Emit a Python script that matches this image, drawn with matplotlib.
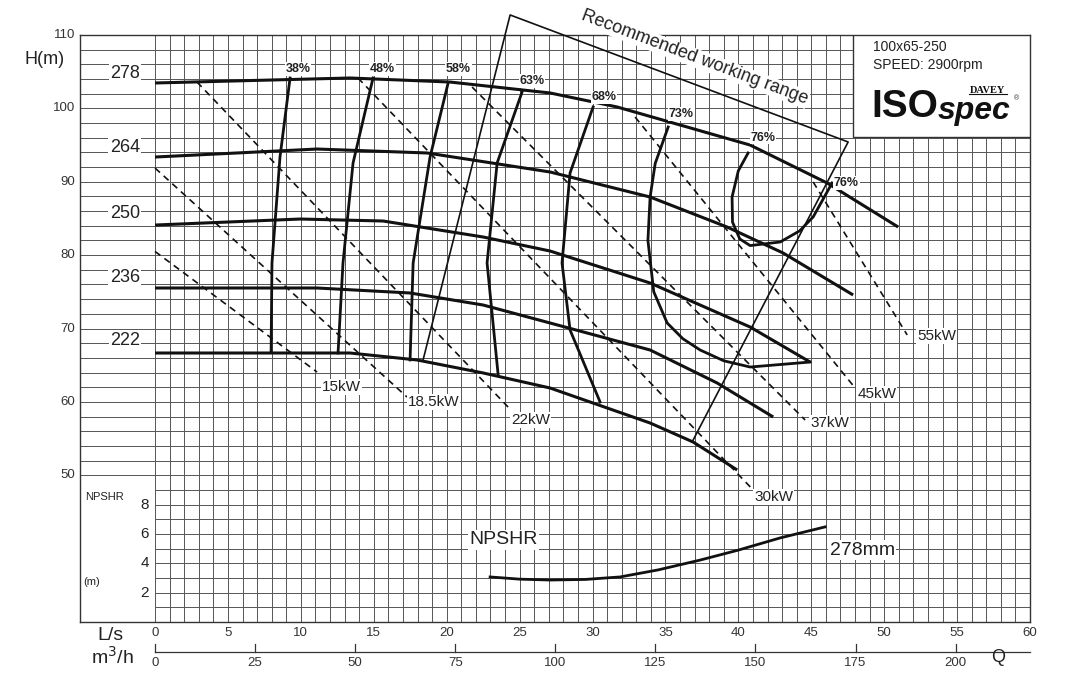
import matplotlib
matplotlib.use("Agg")
import matplotlib.pyplot as plt
from matplotlib.patches import Rectangle

plt.rcParams['font.family'] = ['Liberation Sans', 'DejaVu Sans']

# head curves per impeller diameter: flow (L/s), head (m)
q_278 = [0, 13.37, 20.23, 27.09, 31.69, 40.81, 46.09, 50.96]
h_278 = [103.46, 104.14, 103.59, 102.1, 100.19, 95.0, 89.83, 83.83]
q_264 = [0, 11.11, 18.66, 27.09, 33.95, 39.23, 43.07, 47.87]
h_264 = [93.37, 94.46, 93.92, 91.33, 87.92, 83.83, 80.29, 74.57]
q_250 = [0, 9.95, 15.64, 22.5, 27.09, 33.95, 40.81, 44.92]
h_250 = [84.1, 84.92, 84.65, 82.47, 80.56, 76.2, 70.2, 65.43]
q_236 = [0, 11.11, 17.49, 22.5, 27.09, 33.95, 38.55, 42.39]
h_236 = [75.52, 75.52, 74.84, 73.2, 70.75, 67.07, 62.57, 57.94]
q_222 = [0, 13.37, 17.97, 22.5, 27.09, 33.95, 36.9, 39.92]
h_222 = [66.66, 66.66, 65.71, 63.94, 61.89, 57.12, 54.53, 50.72]
diameters = ['278', '264', '250', '236', '222']
diam_label_h = [104.8, 94.7, 85.7, 77.0, 68.4]

# efficiency contours
eff_labels = ['38%', '48%', '58%', '63%', '68%', '73%', '76%']
eff_q = [[9.26, 8.57, 8.02, 7.96],
         [14.95, 13.58, 12.89, 12.55],
         [20.1, 18.86, 17.7, 17.49],
         [25.17, 23.46, 22.77, 23.53],
         [30.04, 28.46, 27.91, 28.46, 30.52],
         [35.19, 34.3, 33.95, 33.8, 34.2, 35.12, 36.2, 37.38, 39.0, 40.81, 44.92],
         [40.67, 40.0, 39.57, 39.6, 40.1, 40.81, 42.87, 44.2, 45.13, 46.43]]
eff_h = [[104.14, 93.37, 78.93, 66.8],
         [104.14, 92.56, 78.93, 66.66],
         [103.46, 93.37, 78.93, 65.71],
         [102.23, 92.56, 78.93, 63.66],
         [100.19, 91.19, 78.93, 69.8, 59.98],
         [97.46, 92.5, 87.92, 82.0, 75.0, 70.75, 68.6, 67.07, 65.6, 64.75, 65.43],
         [93.92, 91.5, 87.92, 84.5, 82.2, 81.3, 81.79, 83.3, 85.2, 89.83]]
eff_lab_q = [9.8, 15.6, 20.8, 25.86, 30.8, 36.1, 41.7, 47.4]
eff_lab_h = [105.4, 105.4, 105.4, 103.7, 101.5, 99.2, 96.0, 89.8]
eff_lab_txt = eff_labels + ['76%']

# power lines (start q, start h, end q, end h) and labels
power_labels = ['15kW', '18.5kW', '22kW', '30kW', '37kW', '45kW', '55kW']
power_q0 = [0, 0, 2.88, 13.92, 21.74, 32.92, 45.13]
power_h0 = [80.5, 91.87, 103.59, 104.14, 102.91, 98.82, 89.97]
power_q1 = [11.11, 17.28, 24.21, 41.15, 44.58, 48.01, 51.58]
power_h1 = [64.07, 60.66, 59.3, 47.72, 57.53, 61.89, 69.12]
power_lab_q = [11.45, 17.35, 24.42, 41.08, 44.92, 48.15, 52.26]
power_lab_h = [62.03, 59.98, 57.53, 47.04, 57.12, 61.07, 68.98]

# recommended working range
rec_q = [18.38, 24.35, 47.53, 36.83]
rec_h = [65.7, 112.73, 95.42, 54.53]

# NPSHR for 278mm
npsh_q = [22.98, 25.0, 27.09, 29.5, 31.89, 34.5, 37.38, 40.0, 42.87, 45.95]
npsh_m = [3.07, 2.92, 2.86, 2.9, 3.07, 3.55, 4.22, 4.9, 5.73, 6.48]

ls_ticks = list(range(0, 61, 5))
m3h_ticks = list(range(0, 201, 25))
h_ticks = [110, 100, 90, 80, 70, 60, 50]
npsh_ticks = [8, 6, 4, 2]

fig = plt.figure(figsize=(10.88, 6.99), dpi=100)
ax = fig.add_axes([80 / 1088, 77 / 699, 950 / 1088, 587 / 699])
xmin = -75 / 14.58
ax.set_xlim(xmin, 60)
ax.set_ylim(30, 110)
ax.set_xticks([])
ax.set_yticks([])
for s in ax.spines.values():
    s.set_linewidth(1.0)
    s.set_color('#333333')

gc = '#555555'
for q in range(0, 61):
    ax.plot([q, q], [30, 110], color=gc, lw=0.7, zorder=1)
for h in range(30, 111, 2):
    x0 = xmin if h >= 50 else 0
    ax.plot([x0, 60], [h, h], color=gc, lw=0.7, zorder=1)

black = '#111111'
for q, h in [(q_278, h_278), (q_264, h_264), (q_250, h_250), (q_236, h_236), (q_222, h_222)]:
    ax.plot(q, h, color=black, lw=2.2, zorder=4, solid_capstyle='butt')
for d, hl in zip(diameters, diam_label_h):
    ax.text(-2.06, hl, d, fontsize=13, ha='center', va='center', color='#222222',
            bbox=dict(facecolor='white', edgecolor='none', pad=1), zorder=5)

for q, h in zip(eff_q, eff_h):
    ax.plot(q, h, color=black, lw=2.0, zorder=4, solid_joinstyle='round')
for q, h, t in zip(eff_lab_q, eff_lab_h, eff_lab_txt):
    ax.text(q, h, t, fontsize=9, fontweight='bold', ha='center', va='center', color='#222222',
            bbox=dict(facecolor='white', edgecolor='none', pad=0.5), zorder=5)

for i, lab in enumerate(power_labels):
    ax.plot([power_q0[i], power_q1[i]], [power_h0[i], power_h1[i]], color=black, lw=1.2,
            dashes=(4, 3), zorder=3)
    ax.text(power_lab_q[i], power_lab_h[i], lab, fontsize=11, ha='left', va='center', color='#222222',
            bbox=dict(facecolor='white', edgecolor='none', pad=0.5), zorder=5)

ax.plot(rec_q, rec_h, color=black, lw=1.2, zorder=3, clip_on=False)
ax.text(37.0, 106.9, 'Recommended working range', fontsize=13, rotation=-20.6, ha='center',
        va='center', color='#222222', bbox=dict(facecolor='white', edgecolor='none', pad=0.5), zorder=5)

ax.plot(npsh_q, [30 + 2 * n for n in npsh_m], color=black, lw=2.0, zorder=4)
ax.text(23.9, 41.2, 'NPSHR', fontsize=14, ha='center', va='center', color='#222222',
        bbox=dict(facecolor='white', edgecolor='none', pad=1), zorder=5)
ax.text(48.5, 39.8, '278mm', fontsize=14, ha='center', va='center', color='#222222',
        bbox=dict(facecolor='white', edgecolor='none', pad=1), zorder=5)

# logo box
ax.add_patch(Rectangle((47.87, 96.1), 60 - 47.87, 13.9, facecolor='white', edgecolor='#333333',
                       lw=1.0, zorder=6))
ax.text(49.2, 108.4, '100x65-250', fontsize=10, ha='left', va='center', color='#222222', zorder=7)
ax.text(49.2, 105.9, 'SPEED: 2900rpm', fontsize=10, ha='left', va='center', color='#222222', zorder=7)
ax.text(49.1, 100.2, 'ISO', fontsize=28, fontweight='bold', ha='left', va='center',
        color='#111111', zorder=7)
ax.text(53.7, 99.6, 'spec', fontsize=23, fontweight='bold', style='italic', ha='left', va='center',
        color='#111111', zorder=7)
ax.text(57.1, 102.5, 'DAVEY', fontsize=7.5, fontweight='bold', ha='center', va='center',
        family='Liberation Serif', color='#111111', zorder=7)
ax.plot([55.8, 58.4], [101.9, 101.9], color='#111111', lw=0.8, zorder=7)
ax.text(59.1, 101.3, '®', fontsize=5, ha='center', va='center', color='#333333', zorder=7)

# left labels
for h in h_ticks:
    ax.text(-5.49, h, str(h), fontsize=9.5, ha='right', va='center', color='#333333', clip_on=False)
ax.text(-7.6, 106.7, 'H(m)', fontsize=13, ha='center', va='center', color='#222222', clip_on=False)
ax.text(-3.43, 47.0, 'NPSHR', fontsize=8, ha='center', va='center', color='#222222')
ax.text(-4.32, 35.5, '(m)', fontsize=8, ha='center', va='center', color='#222222')
for n in npsh_ticks:
    ax.text(-0.69, 30 + 2 * n, str(n), fontsize=11, ha='center', va='center', color='#222222')

# bottom axes (second scale drawn as printed: 200 m3/h sits at ~54.9 L/s)
m3h_per_ls = 3.643
for q in ls_ticks:
    ax.text(q, 28.5, str(q), fontsize=9.5, ha='center', va='center', color='#333333', clip_on=False)
ax.plot([0, 60], [25.9, 25.9], color='#333333', lw=0.9, clip_on=False)
for m in m3h_ticks:
    ax.plot([m / m3h_per_ls] * 2, [25.9, 27.0], color='#333333', lw=0.9, clip_on=False)
    ax.text(m / m3h_per_ls, 24.4, str(m), fontsize=9.5, ha='center', va='center', color='#333333',
            clip_on=False)
ax.text(-3.08, 28.2, 'L/s', fontsize=14, ha='center', va='center', color='#222222', clip_on=False)
ax.text(-2.95, 25.2, 'm$^3$/h', fontsize=14, ha='center', va='center', color='#222222', clip_on=False)
ax.text(57.8, 25.1, 'Q', fontsize=13, ha='center', va='center', color='#222222', clip_on=False)

fig.savefig('out.png', dpi=100, facecolor='white')
